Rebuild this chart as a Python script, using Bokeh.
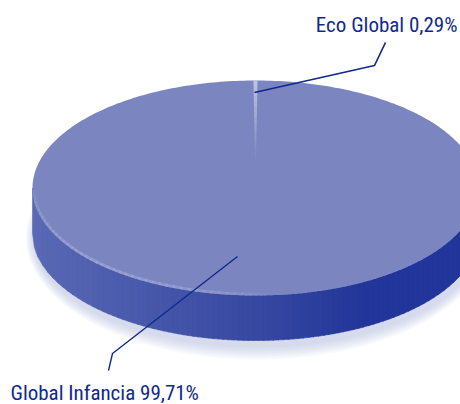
import numpy as np
from bokeh.embed import file_html
from bokeh.resources import INLINE
from bokeh.plotting import figure
from bokeh.models import Range1d
from bokeh.core.properties import value

labels = ["Eco Global", "Global Infancia"]
shares = [0.29, 99.71]
tick_texts = ["Eco Global 0,29%", "Global Infancia 99,71%"]

TOP = "#7b85c0"
WEDGE = "#c4c9e3"
INK = "#0f2a8c"
CX, CY, RX, RY, DEPTH = 255.0, 187.5, 223.0, 107.5, 45.0

p = figure(width=460, height=404, output_backend="svg", toolbar_location=None,
           x_range=Range1d(0, 460), y_range=Range1d(404, 0),
           min_border=0, outline_line_color=None, background_fill_color="white",
           border_fill_color="white")
p.axis.visible = False
p.grid.visible = False

def hexmix(a, b, t):
    a = np.array([int(a[i:i+2], 16) for i in (1, 3, 5)], float)
    b = np.array([int(b[i:i+2], 16) for i in (1, 3, 5)], float)
    c = (a + (b - a) * t).round().astype(int)
    return "#%02x%02x%02x" % tuple(c)

th = np.linspace(0, 2 * np.pi, 361)

# soft shadow beneath the disc
for i, grow in enumerate(np.arange(14, 0, -2)):
    p.patch(CX + 2 + (RX + grow * .6) * np.cos(th), CY + DEPTH + 5 + (RY + grow) * np.sin(th),
            fill_color="#9aa3d4", fill_alpha=0.07, line_color=None)

# side wall: vertical strips following the rim
edges = np.linspace(CX - RX, CX + RX, 90)
for a, b in zip(edges[:-1], edges[1:]):
    xs = np.clip(np.linspace(a, b + .8, 4), CX - RX, CX + RX)
    ys = RY * np.sqrt(np.clip(1 - ((xs - CX) / RX) ** 2, 0, 1))
    t = (0.5 * (a + b) - (CX - RX)) / (2 * RX)
    if t < .55:
        col = hexmix("#5a69b5", "#33459f", t / .55)
    else:
        col = hexmix("#33459f", "#22359a", min((t - .55) / .2, 1))
    p.patch(np.r_[xs, xs[::-1]], np.r_[CY + ys, (CY + ys + DEPTH)[::-1]],
            fill_color=col, line_color=col, line_width=0.6)

# top face
p.patch(CX + RX * np.cos(th), CY + RY * np.sin(th), fill_color=TOP, line_color=None)

# pale rim highlight along the lower-left edge
hl = np.radians(np.linspace(85, 180, 48))
for s, e in zip(hl[:-1], hl[1:]):
    f = (s - hl[0]) / (hl[-1] - hl[0])
    alpha = 0.5 * np.sin(np.pi * min(f * 1.02, 1)) ** 0.6
    seg = np.linspace(s, e + .01, 3)
    p.line(CX + (RX - 1.5) * np.cos(seg), CY + (RY - 1.5) * np.sin(seg),
           line_color="#aab1db", line_width=2.6, line_alpha=float(alpha))

# the small slice, fading towards the centre
half = np.radians(shares[0] / 100 * 360) / 2
radii = np.linspace(1.0, 0.25, 16)
for r0, r1 in zip(radii[:-1], radii[1:]):
    xs = [CX - r0 * RX * np.sin(half), CX + r0 * RX * np.sin(half),
          CX + r1 * RX * np.sin(half), CX - r1 * RX * np.sin(half)]
    ys = [CY - r0 * RY, CY - r0 * RY, CY - r1 * RY, CY - r1 * RY]
    p.patch(xs, ys, fill_color=WEDGE, fill_alpha=float(0.95 * (r1 - .2) / .8), line_color=None)

# leader lines
p.line([254, 374, 385], [92, 65, 42], line_color=INK, line_width=1.7)
p.line([237, 112, 108], [256, 353, 370], line_color=INK, line_width=1.4)

font = value("Roboto Condensed")
p.text([457], [24], text=[tick_texts[0]], text_font=font, text_font_size="21px",
       text_color=INK, text_align="right", text_baseline="middle")
p.text([10], [392], text=[tick_texts[1]], text_font=font, text_font_size="21px",
       text_color=INK, text_align="left", text_baseline="middle")

open("out.html", "w").write(file_html(p, INLINE))
